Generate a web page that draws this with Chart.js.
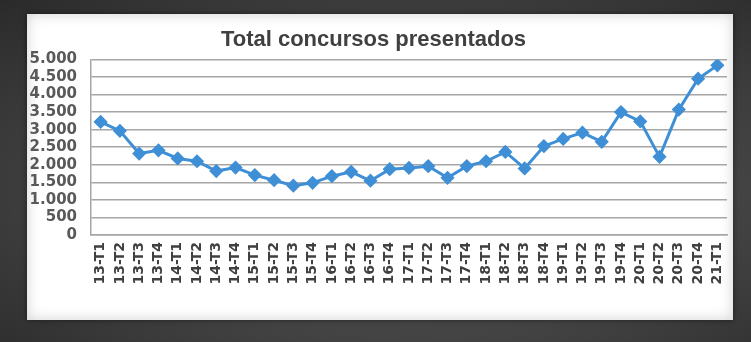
<!DOCTYPE html>
<html>
<head>
<meta charset="utf-8">
<script src="https://cdn.jsdelivr.net/npm/chart.js@4/dist/chart.umd.min.js"></script>
<style>
    html, body { margin: 0; padding: 0; }
    body {
        width: 751px; height: 342px; overflow: hidden; position: relative;
        background: radial-gradient(ellipse at 55% 55%, #5a5a5a 0%, #444 55%, #2a2a2a 100%);
    }
    #panel {
        position: absolute; left: 27px; top: 14px; width: 706px; height: 306px;
        background: #fff;
        box-shadow: inset 0 0 14px rgba(0,0,0,0.18), 0 0 6px rgba(0,0,0,0.5);
    }
    #grafico { position: absolute; left: 0; top: 0; }
</style>
</head>
<body>
<div id="panel"></div>
<canvas id="grafico" width="751" height="342"></canvas>
<script>
// Trimestres (eje X)
const trimestres = [
    '13-T1', '13-T2', '13-T3', '13-T4',
    '14-T1', '14-T2', '14-T3', '14-T4',
    '15-T1', '15-T2', '15-T3', '15-T4',
    '16-T1', '16-T2', '16-T3', '16-T4',
    '17-T1', '17-T2', '17-T3', '17-T4',
    '18-T1', '18-T2', '18-T3', '18-T4',
    '19-T1', '19-T2', '19-T3', '19-T4',
    '20-T1', '20-T2', '20-T3', '20-T4',
    '21-T1'
];
// Total concursos presentados por trimestre
const concursos = [
    3220, 2965, 2320, 2410,
    2180, 2100, 1820, 1920,
    1705, 1560, 1405, 1485,
    1675, 1800, 1545, 1875,
    1910, 1960, 1630, 1960,
    2100, 2365, 1895, 2530,
    2735, 2915, 2655, 3500,
    3235, 2225, 3570, 4450,
    4830
];
const ejeY = { min: 0, max: 5000, paso: 500 };

const fmtMiles = v => String(v).replace(/\B(?=(\d{3})+(?!\d))/g, '.');

document.addEventListener("DOMContentLoaded", function () {
    const ctx = document.getElementById('grafico').getContext('2d');
    new Chart(ctx, {
        type: 'line',
        data: {
            labels: trimestres,
            datasets: [{
                label: 'Total concursos presentados',
                data: concursos,
                borderColor: '#3f8fd6',
                backgroundColor: '#3f8fd6',
                borderWidth: 3,
                pointStyle: 'rectRot',
                pointRadius: 5,
                pointHoverRadius: 5,
                tension: 0
            }]
        },
        options: {
            responsive: false,
            animation: false,
            layout: { padding: { left: 20, right: 24, top: 0, bottom: 37 } },
            plugins: {
                legend: { display: false },
                tooltip: { enabled: false },
                title: {
                    display: true,
                    text: 'Total concursos presentados',
                    color: '#404040',
                    font: { family: 'Liberation Sans', size: 22, weight: 'bold' },
                    padding: { top: 27, bottom: 6 }
                }
            },
            scales: {
                x: {
                    offset: true,
                    grid: { display: false, drawTicks: false },
                    border: { display: true, color: '#a6a6a6', width: 1.5 },
                    ticks: {
                        autoSkip: false,
                        minRotation: 90,
                        maxRotation: 90,
                        padding: 7,
                        color: '#404040',
                        font: { family: 'DejaVu Sans', size: 14, weight: 'bold' }
                    },
                    afterFit: s => { s.height = 70; }
                },
                y: {
                    min: ejeY.min,
                    max: ejeY.max,
                    grid: { color: '#a6a6a6', lineWidth: 1.5, drawTicks: false },
                    border: { display: true, color: '#a6a6a6', width: 1.5 },
                    ticks: {
                        stepSize: ejeY.paso,
                        autoSkip: false,
                        padding: 14,
                        color: '#595959',
                        font: { family: 'DejaVu Sans', size: 15, weight: 'bold', lineHeight: 1 },
                        callback: v => fmtMiles(v)
                    },
                    afterFit: s => { s.width = 71; }
                }
            }
        }
    });
});
</script>
</body>
</html>
